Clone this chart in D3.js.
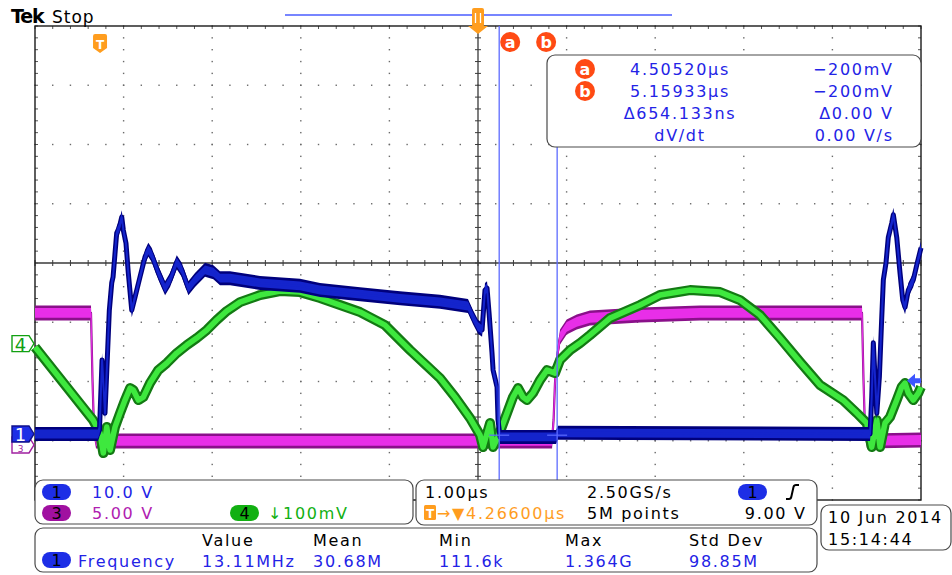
<!DOCTYPE html>
<html>
<head>
<meta charset="utf-8">
<script src="https://cdn.jsdelivr.net/npm/d3@7"></script>
<style>
  body { margin: 0; background: #fff; }
  svg text { font-family: "DejaVu Sans", sans-serif; }
</style>
</head>
<body>
<svg id="scope" width="952" height="575"></svg>
<script>
// time in µs relative to the trigger point
const ch1Time = [-0.734,-0.023,-0.006,0.023,0.056,0.105,0.132,0.147,0.188,0.218,0.245,0.263,0.293,0.319,0.358,0.395,0.451,0.508,0.545,0.584,0.658,0.734,0.790,0.866,0.922,0.997,1.072,1.185,1.279,1.354,1.467,1.806,2.257,2.483,2.935,3.386,3.837,4.153,4.210,4.266,4.312,4.345,4.368,4.391,4.424,4.436,4.481,4.492,4.515,5.147,5.169,8.691,8.710,8.728,8.747,8.767,8.796,8.823,8.841,8.871,8.897,8.936,8.954,8.992,9.029,9.060,9.086,9.123,9.179,9.224,9.266];
const ch1Volts = [0,0,0.7,12.5,3.5,20.9,25.5,26.5,33.9,34.9,36.6,34.4,32.2,27.2,20.9,23.1,26.5,29.9,31.1,30.2,27.2,24.6,26.0,29.0,27.7,24.6,26.0,27.7,27.3,26.3,26.3,25.5,25.0,24.3,23.6,22.9,22.3,21.6,19.7,18.1,17.6,24.3,24.6,20.4,13.7,10.8,7.9,2.4,-0.5,-0.5,0.2,0,6.2,15.4,9.6,3.5,9.6,19.7,26.0,28.9,33.2,35.6,37.0,33.2,27.2,22.6,21.4,24.3,26.0,28.9,31.4];

const ch3Time = [-0.734,-0.102,-0.085,-0.068,-0.045,5.102,5.119,5.135,5.154,5.192,5.267,5.380,5.530,6.095,6.772,8.600,8.617,8.634,8.657,9.266];
const ch3Volts = [10.72,10.72,5.06,0.84,-0.08,-0.08,1.69,4.81,6.75,8.69,9.54,9.96,10.30,10.55,10.72,10.72,5.06,0.84,-0.08,0];

const ch4Time = [-0.734,-0.079,0,0.037,0.076,0.113,0.169,0.226,0.282,0.339,0.376,0.432,0.489,0.564,0.658,0.753,0.866,0.979,1.091,1.204,1.317,1.430,1.580,1.806,2.032,2.257,2.483,2.709,2.935,3.217,3.499,3.837,4.007,4.176,4.289,4.323,4.402,4.436,4.492,4.594,4.661,4.718,4.774,4.819,4.887,4.966,5.045,5.135,5.192,5.305,5.418,5.530,5.756,6.095,6.321,6.659,6.998,7.223,7.449,7.675,7.901,8.126,8.386,8.541,8.654,8.710,8.767,8.804,8.860,8.916,8.992,9.048,9.086,9.123,9.179,9.236,9.266];
const ch4MilliVolts = [-5.9,-129.1,-151.1,-184.8,-140.9,-179.7,-140.9,-117.3,-95.4,-75.1,-78.5,-95.4,-90.3,-66.7,-44.7,-32.9,-16.0,-2.5,9.3,22.8,39.7,54.9,70.0,81.9,88.6,86.9,76.8,65.0,53.2,31.2,-11.0,-58.2,-90.3,-125.7,-154.4,-174.7,-134.2,-174.7,-157.8,-117.3,-90.3,-75.1,-90.3,-95.4,-83.5,-61.6,-44.7,-49.8,-27.8,-11.0,0.8,14.3,43.0,65.0,81.9,90.3,86.9,73.4,48.1,9.3,-31.2,-70.0,-95.4,-117.3,-134.2,-174.7,-129.1,-174.7,-134.2,-124.0,-95.4,-73.4,-66.7,-83.5,-95.4,-83.5,-73.4];

// vertical scale (units per division) and ground position (divisions)
const channelScales = { ch1: 10, ch3: 5, ch4: 100 };
const channelPositions = { ch1: -2.886, ch3: -2.987, ch4: -1.36 };

const triggerOffset = 4.266;   // µs from trigger to screen centre
const timePerDiv = 1;          // µs
const cursorTimes = [4.5052, 5.15933];
const cursorLevel = -0.2;      // V on ch1
const triggerLevel = 9;        // V on ch1

const cursorRows = [
  ['a', '4.50520µs', '−200mV'],
  ['b', '5.15933µs', '−200mV'],
  ['', 'Δ654.133ns', 'Δ0.00 V'],
  ['', 'dV/dt', '0.00 V/s']
];
const measHeaders = ['Value', 'Mean', 'Min', 'Max', 'Std Dev'];
const measValues = ['13.11MHz', '30.68M', '111.6k', '1.364G', '98.85M'];

const svg = d3.select('#scope');

const divX = d3.scaleLinear().domain([-5, 5]).range([35, 921]);
const divY = d3.scaleLinear().domain([-4, 4]).range([500, 26]);
const x = d3.scaleLinear()
  .domain([triggerOffset - 5 * timePerDiv, triggerOffset + 5 * timePerDiv])
  .range(divX.range());
const yFor = ch => v => divY(v / channelScales[ch] + channelPositions[ch]);

const BLUE_TXT = '#2323e6', ORANGE = '#ff9d1e', CURSOR = '#5c6bff', RED = '#ff4a14';
const FS = 16, LS = 1.7;

// ---- graticule
const grat = svg.append('g').attr('class', 'graticule');
const minorX = d3.range(-5, 5.001, 0.2), minorY = d3.range(-4, 4.001, 0.2);

[-4, -3, -2, -1, 1, 2, 3, 4].forEach(i => {
  grat.selectAll(null).data(minorY).enter().append('rect')
    .attr('x', divX(i) - 0.7).attr('y', d => divY(d) - 0.7)
    .attr('width', 1.4).attr('height', 1.4).attr('fill', '#6a6a6a');
});
[-3, -2, -1, 1, 2, 3].forEach(j => {
  grat.selectAll(null).data(minorX).enter().append('rect')
    .attr('x', d => divX(d) - 0.7).attr('y', divY(j) - 0.7)
    .attr('width', 1.4).attr('height', 1.4).attr('fill', '#6a6a6a');
});
grat.append('line').attr('x1', divX(-5)).attr('x2', divX(5))
  .attr('y1', divY(0)).attr('y2', divY(0)).attr('stroke', '#3a3a3a').attr('stroke-width', 1.3);
grat.append('line').attr('x1', divX(0)).attr('x2', divX(0))
  .attr('y1', divY(-4)).attr('y2', divY(4)).attr('stroke', '#3a3a3a').attr('stroke-width', 1.3);
grat.selectAll(null).data(minorX).enter().append('line')
  .attr('x1', d => divX(d)).attr('x2', d => divX(d))
  .attr('y1', divY(0) - 3).attr('y2', divY(0) + 3).attr('stroke', '#3a3a3a');
grat.selectAll(null).data(minorY).enter().append('line')
  .attr('y1', d => divY(d)).attr('y2', d => divY(d))
  .attr('x1', divX(0) - 3).attr('x2', divX(0) + 3).attr('stroke', '#3a3a3a');
// border ticks
grat.selectAll(null).data(minorX).enter().append('line')
  .attr('x1', d => divX(d)).attr('x2', d => divX(d))
  .attr('y1', divY(4)).attr('y2', divY(4) + 3).attr('stroke', '#555');
grat.selectAll(null).data(minorY).enter().append('line')
  .attr('y1', d => divY(d)).attr('y2', d => divY(d))
  .attr('x1', divX(-5)).attr('x2', divX(-5) + 3).attr('stroke', '#555');
grat.selectAll(null).data(minorY).enter().append('line')
  .attr('y1', d => divY(d)).attr('y2', d => divY(d))
  .attr('x1', divX(5) - 3).attr('x2', divX(5)).attr('stroke', '#555');
grat.append('rect').attr('x', divX(-5)).attr('y', divY(4))
  .attr('width', divX(5) - divX(-5)).attr('height', divY(-4) - divY(4))
  .attr('fill', 'none').attr('stroke', '#1a1a1a').attr('stroke-width', 1.4);

// ---- cursors (behind traces)
const cur = svg.append('g');
cur.append('line').attr('x1', x(cursorTimes[0])).attr('x2', x(cursorTimes[0]))
  .attr('y1', divY(4)).attr('y2', 480).attr('stroke', CURSOR).attr('stroke-width', 1.3);
cur.append('line').attr('x1', x(cursorTimes[1])).attr('x2', x(cursorTimes[1]))
  .attr('y1', 147).attr('y2', 480).attr('stroke', CURSOR).attr('stroke-width', 1.3);

// ---- traces: vertical noise band (area) plus a stroked centre line
function drawTrace(times, values, ch, opt) {
  const y = yFor(ch);
  const pts = times.map((t, i) => [t, values[i]]);
  const g = svg.append('g').attr('class', 'trace-' + ch);
  const band = h => d3.area().x(d => x(d[0])).y0(d => y(d[1]) - h).y1(d => y(d[1]) + h);
  const line = d3.line().x(d => x(d[0])).y(d => y(d[1]));
  if (opt.hw) g.append('path').attr('d', band(opt.hw)(pts)).attr('fill', opt.dark);
  g.append('path').attr('d', line(pts)).attr('fill', 'none').attr('stroke', opt.dark)
    .attr('stroke-width', opt.sw).attr('stroke-linejoin', 'round');
  if (opt.hw) g.append('path').attr('d', band(opt.hw - 2.6)(pts)).attr('fill', opt.bright);
  g.append('path').attr('d', line(pts)).attr('fill', 'none').attr('stroke', opt.bright)
    .attr('stroke-width', opt.inner).attr('stroke-linejoin', 'round');
}
drawTrace(ch3Time, ch3Volts, 'ch3', { hw: 7.5, sw: 2.2, inner: 1, dark: '#8a108a', bright: '#e82ee8' });
drawTrace(ch4Time, ch4MilliVolts, 'ch4', { hw: 0, sw: 10, inner: 5.5, dark: '#137a13', bright: '#3ee83e' });
drawTrace(ch1Time, ch1Volts, 'ch1', { hw: 7, sw: 5, inner: 2, dark: '#00007c', bright: '#1424cc' });

// cursor level marks
cursorTimes.forEach(t => {
  cur.append('line').attr('x1', x(t) - 10).attr('x2', x(t) + 10)
    .attr('y1', yFor('ch1')(cursorLevel)).attr('y2', yFor('ch1')(cursorLevel))
    .attr('stroke', CURSOR).attr('stroke-width', 1.2);
});
svg.node().appendChild(cur.node());

// trigger level arrow on right edge
const tly = yFor('ch1')(triggerLevel);
svg.append('path')
  .attr('d', `M${divX(5) - 14},${tly} l8,-7 v4.5 h6 v5 h-6 v4.5 z`)
  .attr('fill', '#3d55ff');

// ---- channel ground markers
function marker(yc, label, fill, stroke, color, fs, ty) {
  const g = svg.append('g');
  g.append('path')
    .attr('d', `M12,${yc - 8} h17 l5,8 l-5,8 h-17 z`)
    .attr('fill', fill).attr('stroke', stroke).attr('stroke-width', 1.4);
  g.append('text').attr('x', 20.5).attr('y', yc + ty).attr('text-anchor', 'middle')
    .attr('font-size', fs).attr('fill', color).text(label);
}
marker(divY(channelPositions.ch3) + 5, '3', '#fff', '#a020a0', '#a020a0', 9, 7.5);
marker(divY(channelPositions.ch1), '1', '#1d2ee6', '#10108a', '#fff', 18, 7);
marker(divY(channelPositions.ch4), '4', '#fff', '#12a012', '#12a012', 18, 7);

// ---- top bar
svg.append('text').attr('x', 11).attr('y', 23).attr('font-family', 'DejaVu Serif')
  .attr('font-weight', 'bold').attr('font-size', 19).attr('letter-spacing', -1.2).text('Tek');
svg.append('text').attr('x', 52).attr('y', 23).attr('font-size', 17).attr('letter-spacing', 1).text('Stop');
svg.append('line').attr('x1', 285).attr('x2', 672).attr('y1', 15).attr('y2', 15)
  .attr('stroke', '#4a5cff').attr('stroke-width', 1.3);
const cx0 = divX(0);
svg.append('rect').attr('x', cx0 - 6).attr('y', 8).attr('width', 12).attr('height', 19)
  .attr('rx', 2).attr('fill', ORANGE);
svg.append('path').attr('d', `M${cx0 - 10},26 h20 l-10,8 z`).attr('fill', ORANGE);
svg.append('path').attr('d', `M${cx0 - 2.5},13 v10 M${cx0 + 2.5},13 v10`)
  .attr('stroke', '#fff').attr('stroke-width', 1.3);

// trigger point marker
const tx = x(0);
svg.append('path')
  .attr('d', `M${tx - 7},36 q0,-2 2,-2 h10 q2,0 2,2 v12 l-7,5 l-7,-5 z`).attr('fill', ORANGE);
svg.append('text').attr('x', tx).attr('y', 48.5).attr('text-anchor', 'middle')
  .attr('font-size', 12).attr('font-weight', 'bold').attr('fill', '#fff').text('T');

function cursorBadge(cx, cy, label) {
  svg.append('circle').attr('cx', cx).attr('cy', cy).attr('r', 10).attr('fill', RED);
  svg.append('text').attr('x', cx).attr('y', cy + 5.5).attr('text-anchor', 'middle')
    .attr('font-size', 16).attr('font-weight', 'bold').attr('fill', '#fff').text(label);
}
cursorBadge(x(cursorTimes[0]) + 11, 42, 'a');
cursorBadge(x(cursorTimes[1]) - 11, 42, 'b');

// ---- text helper
function txt(x0, y0, s, color, anchor) {
  svg.append('text').attr('x', anchor === 'end' ? x0 + LS : x0).attr('y', y0)
    .attr('font-size', FS).attr('letter-spacing', LS)
    .attr('fill', color || '#000').attr('text-anchor', anchor || 'start').text(s);
}

// ---- cursor readout
svg.append('rect').attr('x', 547).attr('y', 55).attr('width', 374).attr('height', 92)
  .attr('rx', 8).attr('fill', '#fff').attr('stroke', '#4a4a4a').attr('stroke-width', 1.2);
cursorRows.forEach((r, i) => {
  const by = 75 + i * 22;
  if (r[0]) cursorBadge(585, by - 6, r[0]);
  txt(680, by, r[1], BLUE_TXT, 'middle');
  txt(892, by, r[2], BLUE_TXT, 'end');
});

// ---- bottom panels
function panel(x0, y0, w, h) {
  svg.append('rect').attr('x', x0).attr('y', y0).attr('width', w).attr('height', h)
    .attr('rx', 8).attr('fill', '#fff').attr('stroke', '#4a4a4a').attr('stroke-width', 1.2);
}
function pill(x0, yc, label, fill) {
  svg.append('rect').attr('x', x0).attr('y', yc - 8).attr('width', 29).attr('height', 16)
    .attr('rx', 8).attr('fill', fill);
  svg.append('text').attr('x', x0 + 14.5).attr('y', yc + 6).attr('text-anchor', 'middle')
    .attr('font-size', FS).attr('fill', '#000').text(label);
}

panel(35, 480, 378, 44);
pill(42, 492, '1', '#1d2ee6'); txt(92, 498, '10.0 V', BLUE_TXT);
pill(42, 513, '3', '#a010a0'); txt(92, 519, '5.00 V', '#b020b0');
pill(230, 513, '4', '#12b012'); txt(268, 519, '↓100mV', '#12b012');
svg.append('line').attr('x1', 413).attr('x2', 416).attr('y1', 500).attr('y2', 500).attr('stroke', '#4a4a4a');

panel(416, 480, 401, 45);
txt(425, 498, '1.00µs'); txt(587, 498, '2.50GS/s');
pill(738, 492, '1', '#1d2ee6');
svg.append('path').attr('d', 'M786,499 h3 q2,0 2.5,-3 l2,-9 q0.5,-2 2.5,-2 h3')
  .attr('fill', 'none').attr('stroke', '#000').attr('stroke-width', 2);
svg.append('rect').attr('x', 424).attr('y', 505).attr('width', 12).attr('height', 15)
  .attr('rx', 1.5).attr('fill', ORANGE);
svg.append('text').attr('x', 430).attr('y', 517.5).attr('text-anchor', 'middle')
  .attr('font-size', 12).attr('font-weight', 'bold').attr('fill', '#fff').text('T');
txt(437, 519, '→▼4.26600µs', ORANGE);
txt(587, 519, '5M points'); txt(805, 519, '9.00 V', '#000', 'end');

panel(35, 528, 782, 44);
const measX = [202, 313, 439, 565, 689];
measHeaders.forEach((h, i) => txt(measX[i], 546, h));
pill(42, 560, '1', '#1d2ee6'); txt(78, 567, 'Frequency', BLUE_TXT);
measValues.forEach((v, i) => txt(measX[i], 567, v, BLUE_TXT));

panel(821, 505, 130, 45);
txt(828, 523, '10 Jun  2014'); txt(828, 545, '15:14:44');
</script>
</body>
</html>
